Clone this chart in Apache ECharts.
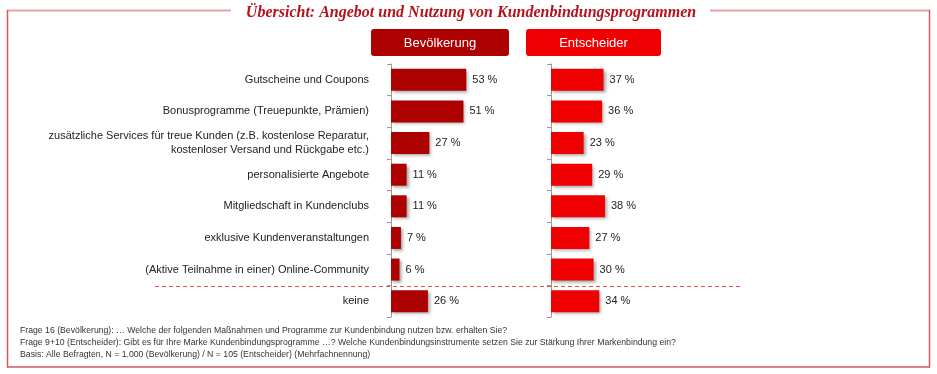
<!DOCTYPE html>
<html><head><meta charset="utf-8">
<script src="https://cdn.jsdelivr.net/npm/echarts@6/dist/echarts.min.js"></script>
<style>html,body{margin:0;padding:0;background:#fff}#c{width:937px;height:374px}</style>
</head><body><div id="c"></div>
<script>
const categories = [
  'Gutscheine und Coupons',
  'Bonusprogramme (Treuepunkte, Prämien)',
  'zusätzliche Services für treue Kunden (z.B. kostenlose Reparatur,\nkostenloser Versand und Rückgabe etc.)',
  'personalisierte Angebote',
  'Mitgliedschaft in Kundenclubs',
  'exklusive Kundenveranstaltungen',
  '(Aktive Teilnahme in einer) Online-Community',
  'keine'
];
const seriesNames = ['Bevölkerung', 'Entscheider'];
const bevoelkerung = [53, 51, 27, 11, 11, 7, 6, 26];
const entscheider = [37, 36, 23, 29, 38, 27, 30, 34];
const titleText = 'Übersicht: Angebot und Nutzung von Kundenbindungsprogrammen';
const footnotes = [
  'Frage 16 (Bevölkerung): … Welche der folgenden Maßnahmen und Programme zur Kundenbindung nutzen bzw. erhalten Sie?',
  'Frage 9+10 (Entscheider): Gibt es für Ihre Marke Kundenbindungsprogramme …? Welche Kundenbindungsinstrumente setzen Sie zur Stärkung Ihrer Markenbindung ein?',
  'Basis: Alle Befragten, N = 1.000 (Bevölkerung) / N = 105 (Entscheider) (Mehrfachnennung)'
];
const colors = ['#ad0000', '#f00000'];

const chart = echarts.init(document.getElementById('c'), null, {renderer: 'canvas'});
const frameColor = '#cf5a5c';
const yAxisCommon = {
  type: 'category', data: categories, inverse: true,
  axisLine: {show: true, lineStyle: {color: '#9a9a9a', width: 1}},
  axisTick: {show: true, length: 4, lineStyle: {color: '#9a9a9a'}},
  splitLine: {show: false}
};
const barCommon = {
  type: 'bar', barWidth: 22,
  label: {show: true, position: 'right', distance: 6, formatter: '{c} %',
    color: '#222', fontSize: 11, fontFamily: 'Liberation Sans, Arial, sans-serif'},
  emphasis: {disabled: true},
  animation: false
};
chart.setOption({
  animation: false,
  grid: [
    {left: 391, top: 64, width: 142, height: 253},
    {left: 551, top: 64, width: 142, height: 253}
  ],
  xAxis: [
    {gridIndex: 0, type: 'value', min: 0, max: 100, show: false},
    {gridIndex: 1, type: 'value', min: 0, max: 100, show: false}
  ],
  yAxis: [
    Object.assign({gridIndex: 0, axisLabel: {show: true, margin: 22, color: '#222', fontSize: 11,
      lineHeight: 14, fontFamily: 'Liberation Sans, Arial, sans-serif'}}, yAxisCommon),
    Object.assign({gridIndex: 1, axisLabel: {show: false}}, yAxisCommon)
  ],
  series: [
    Object.assign({name: seriesNames[0], xAxisIndex: 0, yAxisIndex: 0, data: bevoelkerung,
      itemStyle: {color: colors[0], shadowBlur: 3, shadowOffsetX: 2, shadowOffsetY: 2, shadowColor: 'rgba(0,0,0,0.35)'}}, barCommon),
    Object.assign({name: seriesNames[1], xAxisIndex: 1, yAxisIndex: 1, data: entscheider,
      itemStyle: {color: colors[1], shadowBlur: 3, shadowOffsetX: 2, shadowOffsetY: 2, shadowColor: 'rgba(0,0,0,0.35)'}}, barCommon)
  ],
  graphic: [
    // frame
    {type: 'line', shape: {x1: 7, y1: 10.5, x2: 231, y2: 10.5}, style: {stroke: '#e9a3a4', lineWidth: 2}, silent: true},
    {type: 'line', shape: {x1: 710, y1: 10.5, x2: 930, y2: 10.5}, style: {stroke: '#e9a3a4', lineWidth: 2}, silent: true},
    {type: 'line', shape: {x1: 7.5, y1: 10, x2: 7.5, y2: 367.5}, style: {stroke: frameColor, lineWidth: 1.5}, silent: true},
    {type: 'line', shape: {x1: 929.5, y1: 10, x2: 929.5, y2: 367.5}, style: {stroke: frameColor, lineWidth: 1.5}, silent: true},
    {type: 'line', shape: {x1: 7, y1: 367, x2: 930, y2: 367}, style: {stroke: frameColor, lineWidth: 1.5}, silent: true},
    // title
    {type: 'text', x: 471, y: 13, style: {text: titleText, textAlign: 'center', textVerticalAlign: 'middle',
      fill: '#b5121b', font: 'italic bold 16px "Liberation Serif", "DejaVu Serif", serif'}, silent: true},
    // legend buttons
    {type: 'rect', shape: {x: 371, y: 29, width: 138, height: 27, r: 3}, style: {fill: colors[0]}, silent: true},
    {type: 'text', x: 440, y: 43, style: {text: seriesNames[0], textAlign: 'center', textVerticalAlign: 'middle',
      fill: '#fff', font: '13px "Liberation Sans", Arial, sans-serif'}, silent: true},
    {type: 'rect', shape: {x: 526, y: 29, width: 135, height: 27, r: 3}, style: {fill: colors[1]}, silent: true},
    {type: 'text', x: 593.5, y: 43, style: {text: seriesNames[1], textAlign: 'center', textVerticalAlign: 'middle',
      fill: '#fff', font: '13px "Liberation Sans", Arial, sans-serif'}, silent: true},
    // dashed separator
    {type: 'line', shape: {x1: 155, y1: 286.5, x2: 742, y2: 286.5}, style: {stroke: '#d9534f', lineWidth: 1.2, lineDash: [4, 3]}, silent: true, z: 10},
    // footnotes
    {type: 'text', x: 20, y: 331, style: {text: footnotes[0], textVerticalAlign: 'middle', fill: '#333', font: '8.7px "Liberation Sans", Arial, sans-serif'}, silent: true},
    {type: 'text', x: 20, y: 343, style: {text: footnotes[1], textVerticalAlign: 'middle', fill: '#333', font: '8.7px "Liberation Sans", Arial, sans-serif'}, silent: true},
    {type: 'text', x: 20, y: 355, style: {text: footnotes[2], textVerticalAlign: 'middle', fill: '#333', font: '8.7px "Liberation Sans", Arial, sans-serif'}, silent: true}
  ]
});
</script></body></html>
